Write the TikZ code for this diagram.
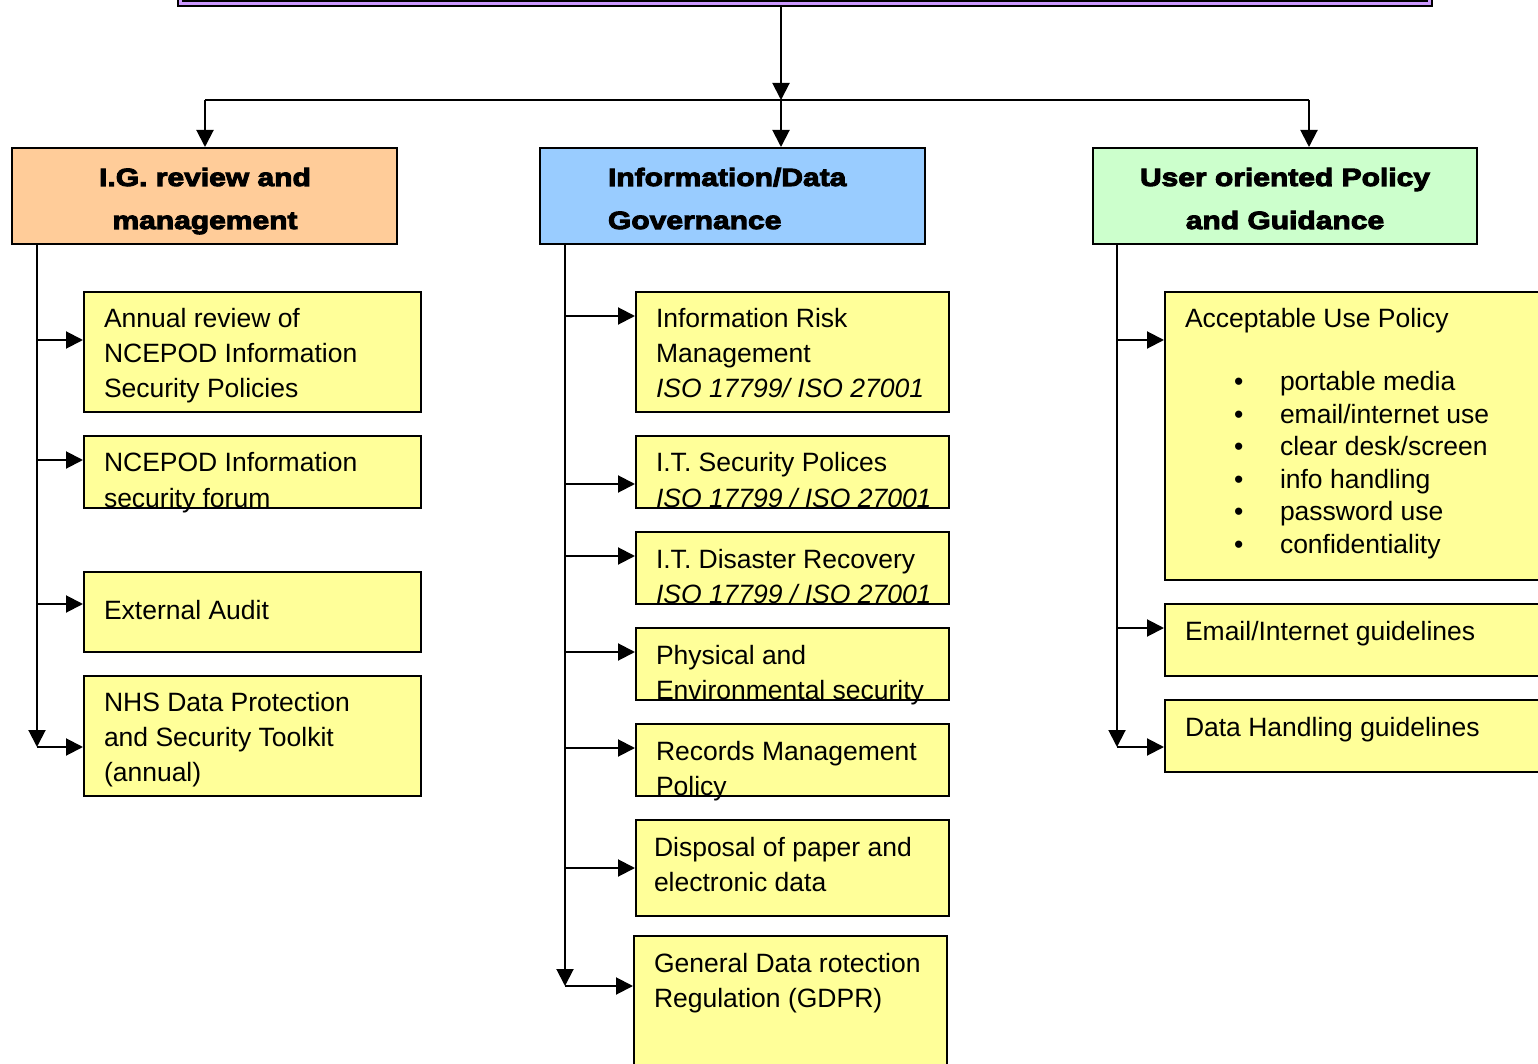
\documentclass[tikz,border=0pt]{standalone}
\usepackage{fontspec}
\setmainfont{Liberation Sans}
\newfontfamily\hdrfont[FakeStretch=1.2,FakeBold=4]{Liberation Sans Bold}
\usetikzlibrary{arrows.meta,fit}
\definecolor{peach}{HTML}{FFCC99}
\definecolor{skyb}{HTML}{99CCFF}
\definecolor{mint}{HTML}{CCFFCC}
\definecolor{yel}{HTML}{FFFF99}
\definecolor{purp}{HTML}{CC99FF}
\begin{document}
\begin{tikzpicture}[x=0.5pt,y=-0.5pt,line width=1pt,
  arr/.style={-{Triangle[length=8.5pt,width=8.5pt]}},
  ybox/.style={draw,fill=yel,inner sep=0pt},
  hbox/.style={draw,inner sep=0pt},
  txt/.style={inner sep=0pt,font=\fontsize{13.25}{17.5}\selectfont},
  blt/.style={inner sep=0pt,font=\fontsize{13.25}{16.25}\selectfont},
  hdr/.style={inner sep=0pt,font=\hdrfont\fontsize{12.5}{21.5}\selectfont}]
\clip (0,0) rectangle (1538,1064);
% top bar
\node[fit={(178,-40)(1432,6)},draw,line width=1pt,fill=purp,inner sep=0pt] (top) {};
\node[fit={(183,-40)(1427,1)},draw,line width=0.8pt,inner sep=0pt] (topin) {};
% headers
\node[hbox,fill=peach,fit={(12,148)(397,244)}] (hL) {};
\node[hbox,fill=skyb,fit={(540,148)(925,244)}] (hM) {};
\node[hbox,fill=mint,fit={(1093,148)(1477,244)}] (hR) {};
\node[hdr,anchor=base] (hLt) at (205,186) {\parbox[t]{180pt}{\centering I.G. review and\\management}};
\node[hdr,anchor=base west] (hMt) at (607,186) {\parbox[t]{150pt}{\raggedright Information/Data\\Governance}};
\node[hdr,anchor=base] (hRt) at (1285,186) {\parbox[t]{185pt}{\centering User oriented Policy\\and Guidance}};
% top connectors
\coordinate (hub) at (781,100);
\coordinate (jL) at (205,100);
\coordinate (jM) at (781,100);
\coordinate (jR) at (1309,100);
\draw[arr] (top.south -| hub) -- (hub);
\draw (jL) -- (jR);
\draw[arr] (jL) -- (jL |- hL.north);
\draw[arr] (jM) -- (jM |- hM.north);
\draw[arr] (jR) -- (jR |- hR.north);
% left column boxes
\node[ybox,fit={(84,292)(421,412)}] (L1) {};
\node[ybox,fit={(84,436)(421,508)}] (L2) {};
\node[ybox,fit={(84,572)(421,652)}] (L3) {};
\node[ybox,fit={(84,676)(421,796)}] (L4) {};
\node[txt,anchor=base west] (L1t) at (103,328) {\parbox[t]{155pt}{\raggedright Annual review of\\NCEPOD Information\\Security Policies}};
\node[txt,anchor=base west] (L2t) at (103,472) {\parbox[t]{155pt}{\raggedright NCEPOD Information\\security forum}};
\node[txt,anchor=base west] (L3t) at (103,619) {External Audit};
\node[txt,anchor=base west] (L4t) at (103,711) {\parbox[t]{155pt}{\raggedright NHS Data Protection\\and Security Toolkit\\(annual)}};
% left spine
\coordinate (lsT) at (37,244);
\coordinate (lb1) at (37,340);
\coordinate (lb2) at (37,460);
\coordinate (lb3) at (37,604);
\coordinate (lb4) at (37,747);
\draw[arr] (lsT) -- (lb4);
\draw[arr] (lb1) -- (lb1 -| L1.west);
\draw[arr] (lb2) -- (lb2 -| L2.west);
\draw[arr] (lb3) -- (lb3 -| L3.west);
\draw[arr] (lb4) -- (lb4 -| L4.west);
% middle column boxes
\node[ybox,fit={(636,292)(949,412)}] (M1) {};
\node[ybox,fit={(636,436)(949,508)}] (M2) {};
\node[ybox,fit={(636,532)(949,604)}] (M3) {};
\node[ybox,fit={(636,628)(949,700)}] (M4) {};
\node[ybox,fit={(636,724)(949,796)}] (M5) {};
\node[ybox,fit={(636,820)(949,916)}] (M6) {};
\node[ybox,fit={(634,936)(947,1090)}] (M7) {};
\node[txt,anchor=base west] (M1t) at (655,328) {\parbox[t]{145pt}{\raggedright Information Risk\\Management\\\itshape ISO 17799/ ISO 27001}};
\node[txt,anchor=base west] (M2t) at (655,472) {\parbox[t]{145pt}{\raggedright I.T. Security Polices\\\itshape ISO 17799 / ISO 27001}};
\node[txt,anchor=base west] (M3t) at (655,568) {\parbox[t]{145pt}{\raggedright I.T. Disaster Recovery\\\itshape ISO 17799 / ISO 27001}};
\node[txt,anchor=base west] (M4t) at (655,664) {\parbox[t]{145pt}{\raggedright Physical and\\Environmental security}};
\node[txt,anchor=base west] (M5t) at (655,760) {\parbox[t]{145pt}{\raggedright Records Management\\Policy}};
\node[txt,anchor=base west] (M6t) at (653,856) {\parbox[t]{145pt}{\raggedright Disposal of paper and\\electronic data}};
\node[txt,anchor=base west] (M7t) at (653,972) {\parbox[t]{145pt}{\raggedright General Data rotection\\Regulation (GDPR)}};
% middle spine
\coordinate (msT) at (565,244);
\coordinate (mb1) at (565,316);
\coordinate (mb2) at (565,484);
\coordinate (mb3) at (565,556);
\coordinate (mb4) at (565,652);
\coordinate (mb5) at (565,748);
\coordinate (mb6) at (565,868);
\coordinate (mb7) at (565,986);
\draw[arr] (msT) -- (mb7);
\draw[arr] (mb1) -- (mb1 -| M1.west);
\draw[arr] (mb2) -- (mb2 -| M2.west);
\draw[arr] (mb3) -- (mb3 -| M3.west);
\draw[arr] (mb4) -- (mb4 -| M4.west);
\draw[arr] (mb5) -- (mb5 -| M5.west);
\draw[arr] (mb6) -- (mb6 -| M6.west);
\draw[arr] (mb7) -- (mb7 -| M7.west);
% right column boxes
\node[ybox,fit={(1165,292)(1560,580)}] (R1) {};
\node[ybox,fit={(1165,604)(1560,676)}] (R2) {};
\node[ybox,fit={(1165,700)(1560,772)}] (R3) {};
\node[txt,anchor=base west] (R1t) at (1184,328) {Acceptable Use Policy};
\node[blt,anchor=base west] (R1b) at (1233,391) {\parbox[t]{10pt}{\textbullet\\\textbullet\\\textbullet\\\textbullet\\\textbullet\\\textbullet}};
\node[blt,anchor=base west] (R1l) at (1279,391) {\parbox[t]{120pt}{\raggedright portable media\\email/internet use\\clear desk/screen\\info handling\\password use\\confidentiality}};
\node[txt,anchor=base west] (R2t) at (1184,640) {Email/Internet guidelines};
\node[txt,anchor=base west] (R3t) at (1184,736) {Data Handling guidelines};
% right spine
\coordinate (rsT) at (1117,244);
\coordinate (rb1) at (1117,340);
\coordinate (rb2) at (1117,628);
\coordinate (rb3) at (1117,747);
\draw[arr] (rsT) -- (rb3);
\draw[arr] (rb1) -- (rb1 -| R1.west);
\draw[arr] (rb2) -- (rb2 -| R2.west);
\draw[arr] (rb3) -- (rb3 -| R3.west);
\end{tikzpicture}
\end{document}
